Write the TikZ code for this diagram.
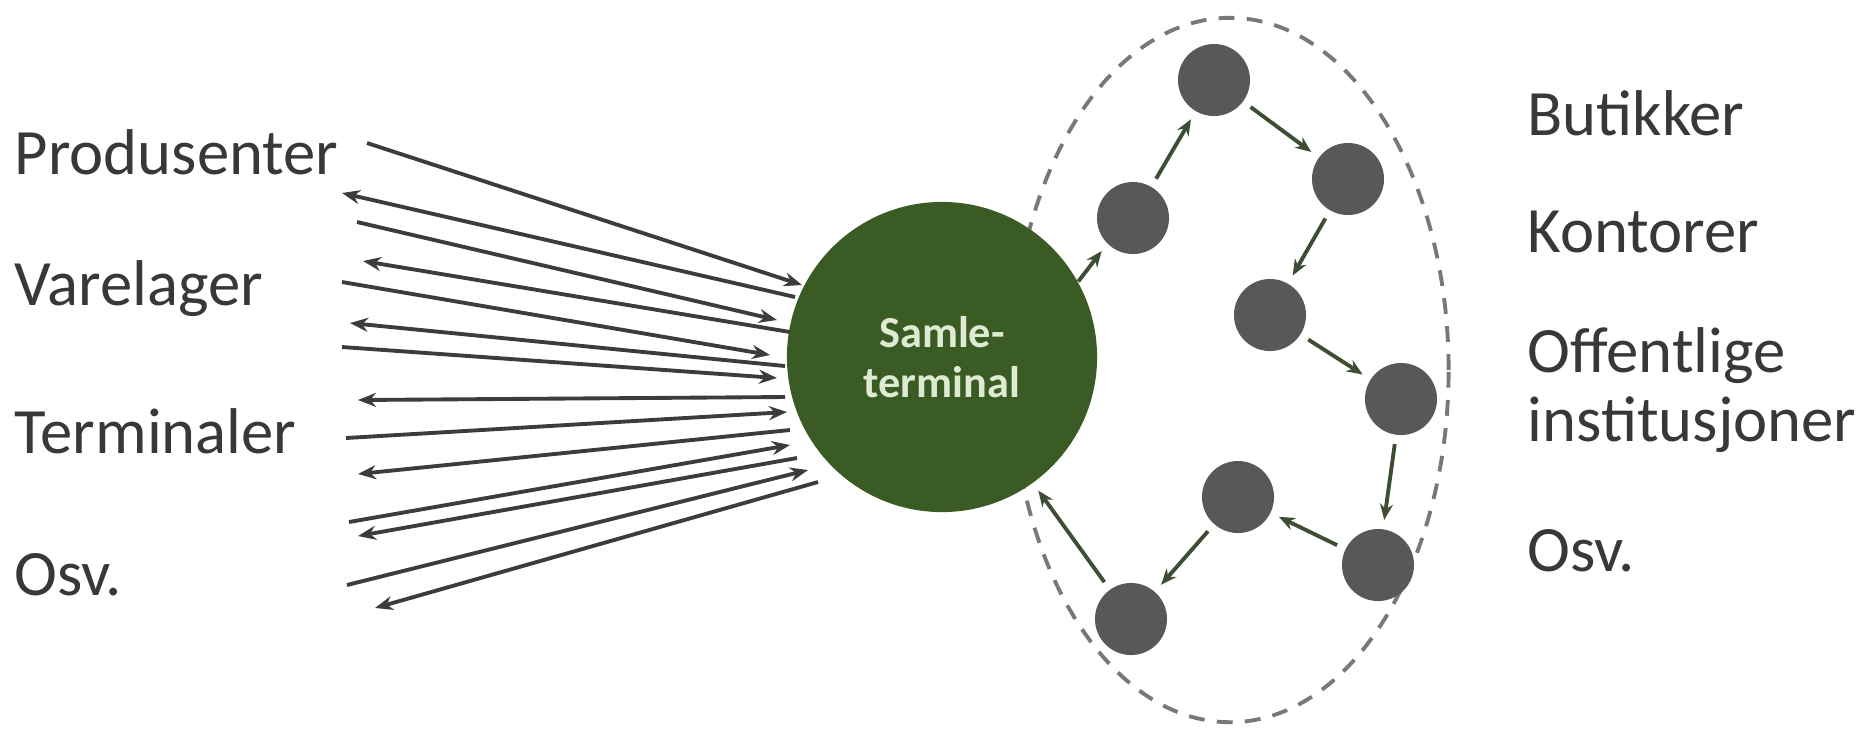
\documentclass[tikz,border=0pt]{standalone}
\usepackage{fontspec}
\setmainfont{Carlito}
\usetikzlibrary{arrows.meta,shapes.geometric}
\definecolor{termgreen}{RGB}{58,92,36}
\definecolor{termtext}{RGB}{222,234,210}
\definecolor{dotgray}{RGB}{88,88,88}
\definecolor{fanline}{RGB}{60,60,60}
\definecolor{looparrow}{RGB}{62,78,52}
\definecolor{dashgray}{RGB}{120,120,120}
\begin{document}
\begin{tikzpicture}[x=0.01cm,y=-0.01cm,
  lbl/.style={anchor=west,font=\fontsize{18.4pt}{19.5pt}\selectfont,text=black!78,inner sep=0pt},
  dot/.style={circle,fill=dotgray,minimum size=0.72cm,inner sep=0pt,draw=none},
  fan/.style={draw=fanline,line width=1.1pt},
  fanin/.style={fan,-{Stealth[length=0.18cm,width=0.14cm]}},
  loop/.style={draw=looparrow,line width=1.1pt,-{Stealth[length=0.16cm,width=0.13cm]},shorten <=2.5pt,shorten >=2.5pt}]
\useasboundingbox (0,0) rectangle (1869,729);
% labels left
\node[lbl] (prod) at (14,152) {Produsenter};
\node[lbl] (vare) at (14,289) {Varelager};
\node[lbl] (term) at (14,431) {Terminaler};
\node[lbl] (osvl) at (14,575) {Osv.};
% labels right
\node[lbl] (but) at (1527,113) {Butikker};
\node[lbl] (kont) at (1527,232) {Kontorer};
\node[lbl,align=left] (off) at (1527,390) {Offentlige\\institusjoner};
\node[lbl] (osvr) at (1527,551) {Osv.};
% dashed ellipse
\node[draw=dashgray,line width=1.1pt,dash pattern=on 4.5pt off 3.5pt,ellipse,minimum width=4.37cm,minimum height=7.04cm,inner sep=0pt] (ell) at (1230,370) {};
% big terminal
\node[circle,fill=termgreen,minimum size=3.1cm,inner sep=0pt,align=center,text=termtext,font=\bfseries\fontsize{12.6pt}{14pt}\selectfont] (sam) at (942,357) {Samle-\\terminal};
% small dots
\node[dot] (d1) at (1133,218) {};
\node[dot] (d2) at (1214,80) {};
\node[dot] (d3) at (1348,179) {};
\node[dot] (d4) at (1270,315) {};
\node[dot] (d5) at (1401,399) {};
\node[dot] (d6) at (1378,565) {};
\node[dot] (d7) at (1238,497) {};
\node[dot] (d8) at (1131,619) {};
\draw[loop,shorten <=0pt] (sam.29) -- (d1.225);
\draw[loop] (d1) -- (d2);
\draw[loop] (d2) -- (d3);
\draw[loop] (d3) -- (d4);
\draw[loop] (d4) -- (d5);
\draw[loop] (d5) -- (d6);
\draw[loop] (d6) -- (d7);
\draw[loop] (d7) -- (d8);
\draw[loop] (d8) -- (sam);
% fan coordinates
\coordinate (l1) at (367,143);  \coordinate (r1) at (802,285);
\coordinate (l2) at (342,193);  \coordinate (r2) at (795,297);
\coordinate (l3) at (357,222);  \coordinate (r3) at (777,320);
\coordinate (l4) at (363,261);  \coordinate (r4) at (790,332);
\coordinate (l5) at (342,282);  \coordinate (r5) at (770,355);
\coordinate (l6) at (350,323);  \coordinate (r6) at (785,366);
\coordinate (l7) at (342,347);  \coordinate (r7) at (777,378);
\coordinate (l8) at (358,400);  \coordinate (r8) at (785,397);
\coordinate (l9) at (346,438);  \coordinate (r9) at (787,412);
\coordinate (l10) at (358,474); \coordinate (r10) at (790,430);
\coordinate (l11) at (349,522); \coordinate (r11) at (790,445);
\coordinate (l12) at (358,536); \coordinate (r12) at (797,458);
\coordinate (l13) at (347,585); \coordinate (r13) at (808,470);
\coordinate (l14) at (375,608); \coordinate (r14) at (818,482);
\foreach \i in {1,3,5,7,9,11,13} {\draw[fanin] (l\i) -- (r\i);}
\foreach \i in {2,4,6,8,10,12,14} {\draw[fanin] (r\i) -- (l\i);}
\end{tikzpicture}
\end{document}
